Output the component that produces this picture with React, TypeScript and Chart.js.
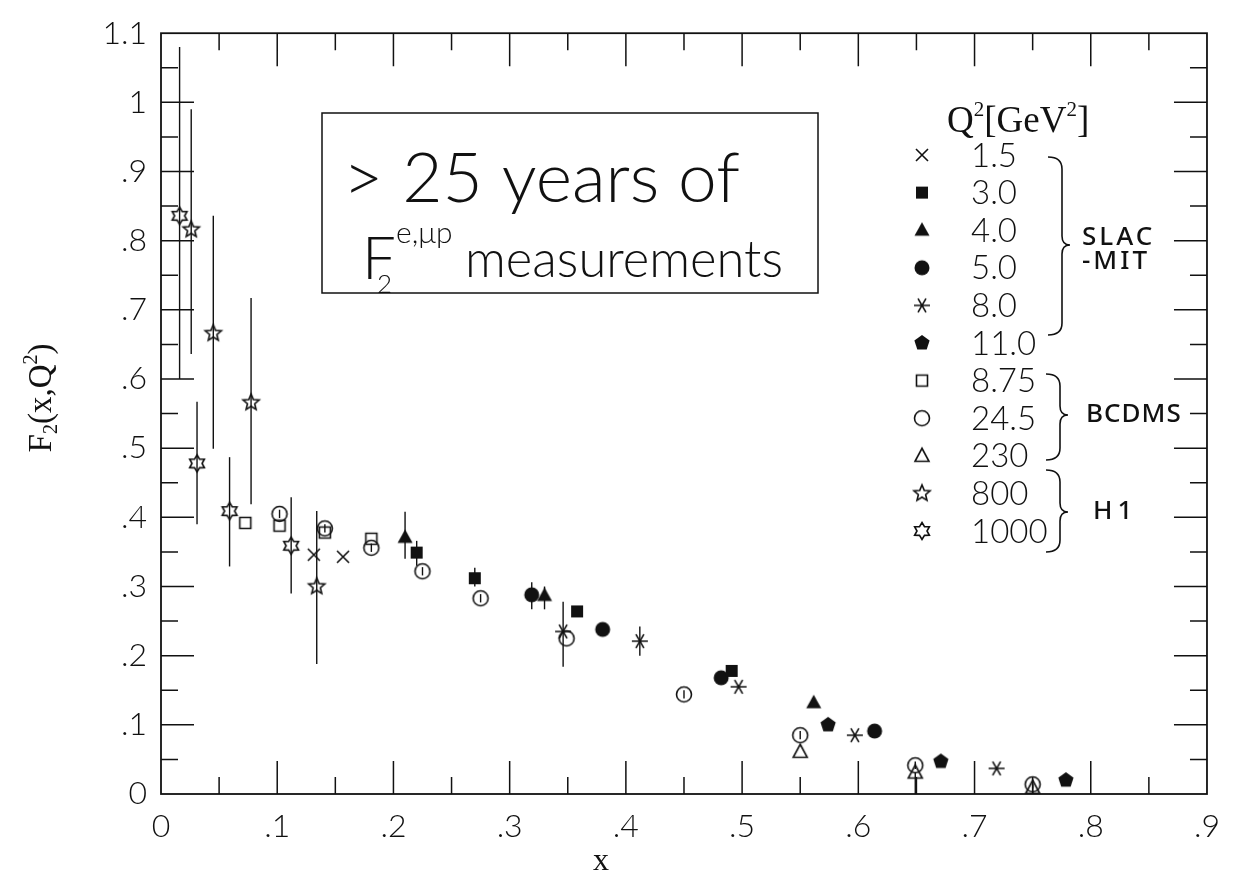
import React, { useEffect, useRef } from "react";
import { Chart, registerables } from "chart.js";

Chart.register(...registerables);

const INK = "#111111";

// ---------- data ----------
const legendLabels = ["1.5", "3.0", "4.0", "5.0", "8.0", "11.0", "8.75", "24.5", "230", "800", "1000"];
const legendMarkers = ["cross", "fsquare", "ftriangle", "fcircle", "asterisk", "fpentagon", "osquare", "ocircle", "otriangle", "star5", "star6"];
const groupNames = ["SLAC", "-MIT", "BCDMS", "H1"];
const xTickValues = [0, 0.1, 0.2, 0.3, 0.4, 0.5, 0.6, 0.7, 0.8, 0.9];
const yTickValues = [0, 0.1, 0.2, 0.3, 0.4, 0.5, 0.6, 0.7, 0.8, 0.9, 1.0, 1.1];

// SLAC-MIT Q2 = 1.5
const q15X = [0.1315, 0.1566];
const q15Y = [0.346, 0.343];
// SLAC-MIT Q2 = 3.0
const q30X = [0.22, 0.27, 0.358, 0.491];
const q30Y = [0.349, 0.312, 0.264, 0.178];
const q30Lo = [0.33, 0.3, null, null];
const q30Hi = [0.366, 0.327, null, null];
// SLAC-MIT Q2 = 4.0
const q40X = [0.21, 0.33, 0.5616];
const q40Y = [0.371, 0.287, 0.132];
const q40Lo = [0.34, 0.267, null];
const q40Hi = [0.408, 0.3, null];
// SLAC-MIT Q2 = 5.0
const q50X = [0.319, 0.38, 0.482, 0.614];
const q50Y = [0.288, 0.238, 0.168, 0.091];
const q50Lo = [0.267, null, null, null];
const q50Hi = [0.306, null, null, null];
// SLAC-MIT Q2 = 8.0
const q80X = [0.346, 0.412, 0.497, 0.597, 0.719];
const q80Y = [0.235, 0.221, 0.155, 0.085, 0.037];
const q80Lo = [0.184, 0.2, null, null, null];
const q80Hi = [0.278, 0.242, null, null, null];
// SLAC-MIT Q2 = 11.0
const q110X = [0.574, 0.671, 0.7786];
const q110Y = [0.1, 0.047, 0.02];
// BCDMS Q2 = 8.75
const q875X = [0.0725, 0.102, 0.141, 0.181];
const q875Y = [0.392, 0.388, 0.378, 0.369];
// BCDMS Q2 = 24.5
const q245X = [0.102, 0.141, 0.181, 0.225, 0.275, 0.349, 0.45, 0.55, 0.649, 0.75];
const q245Y = [0.405, 0.384, 0.356, 0.322, 0.283, 0.225, 0.144, 0.085, 0.0415, 0.014];
const q245Lo = [0.399, 0.378, 0.35, 0.316, 0.277, null, 0.138, 0.079, 0.036, 0.008];
const q245Hi = [0.411, 0.39, 0.362, 0.328, 0.289, null, 0.15, 0.091, 0.047, 0.02];
// BCDMS Q2 = 230
const q230X = [0.55, 0.649, 0.75];
const q230Y = [0.061, 0.031, 0.009];
const q230Lo = [null, 0.0, 0.0];
const q230Hi = [null, 0.031, 0.014];
// H1 Q2 = 800
const q800X = [0.026, 0.045, 0.0775, 0.134];
const q800Y = [0.816, 0.666, 0.566, 0.3];
const q800Lo = [0.636, 0.499, 0.419, 0.188];
const q800Hi = [0.99, 0.836, 0.717, 0.409];
// H1 Q2 = 1000
const q1000X = [0.016, 0.031, 0.059, 0.112];
const q1000Y = [0.836, 0.478, 0.409, 0.359];
const q1000Lo = [0.6, 0.39, 0.329, 0.29];
const q1000Hi = [1.08, 0.567, 0.487, 0.429];

// ---------- markers ----------
function makeMarker(kind: string): HTMLCanvasElement {
  const S = 26;
  const c = document.createElement("canvas");
  c.width = S;
  c.height = S;
  const g = c.getContext("2d") as CanvasRenderingContext2D;
  g.translate(S / 2, S / 2);
  g.strokeStyle = INK;
  g.fillStyle = INK;
  g.lineWidth = 1.6;
  g.lineJoin = "miter";
  g.beginPath();
  const poly = (n: number, rOut: number, rIn: number | null) => {
    const pts = rIn === null ? n : n * 2;
    for (let i = 0; i < pts; i++) {
      const a = -Math.PI / 2 + (i * 2 * Math.PI) / pts;
      const r = rIn === null ? rOut : i % 2 === 0 ? rOut : rIn;
      const px = r * Math.cos(a);
      const py = r * Math.sin(a);
      if (i === 0) g.moveTo(px, py);
      else g.lineTo(px, py);
    }
    g.closePath();
  };
  switch (kind) {
    case "cross":
      g.moveTo(-6, -6); g.lineTo(6, 6); g.moveTo(6, -6); g.lineTo(-6, 6); g.stroke();
      break;
    case "fsquare":
      g.fillRect(-6, -6, 12, 12);
      break;
    case "ftriangle":
      g.moveTo(0, -8); g.lineTo(7.5, 5.5); g.lineTo(-7.5, 5.5); g.closePath(); g.fill();
      break;
    case "fcircle":
      g.arc(0, 0, 7.5, 0, Math.PI * 2); g.fill();
      break;
    case "asterisk":
      for (const deg of [0, 60, 120]) {
        const a = (deg * Math.PI) / 180;
        g.moveTo(-8 * Math.cos(a), -8 * Math.sin(a));
        g.lineTo(8 * Math.cos(a), 8 * Math.sin(a));
      }
      g.stroke();
      break;
    case "fpentagon":
      poly(5, 8, null); g.fill();
      break;
    case "osquare":
      g.rect(-5.5, -5.5, 11, 11); g.stroke();
      break;
    case "ocircle":
      g.arc(0, 0, 7.5, 0, Math.PI * 2); g.stroke();
      break;
    case "otriangle":
      g.moveTo(0, -7.5); g.lineTo(7, 5.5); g.lineTo(-7, 5.5); g.closePath(); g.stroke();
      break;
    case "star5":
      g.lineWidth = 1.6; poly(5, 8.5, 3.8); g.stroke();
      break;
    case "star6":
      g.lineWidth = 1.6; poly(6, 8.5, 5); g.stroke();
      break;
  }
  return c;
}

function pts(xs: number[], ys: number[]) {
  return xs.map((x, i) => ({ x, y: ys[i] }));
}

type Part = { t: string; s: number; dy: number };
function drawRich(ctx: CanvasRenderingContext2D, parts: Part[], x: number, y: number, family: string, weight: string, align: "left" | "center") {
  let w = 0;
  for (const p of parts) {
    ctx.font = `${weight} ${p.s}px ${family}`;
    w += ctx.measureText(p.t).width;
  }
  let cx = align === "center" ? x - w / 2 : x;
  ctx.textAlign = "left";
  for (const p of parts) {
    ctx.font = `${weight} ${p.s}px ${family}`;
    ctx.fillText(p.t, cx, y + p.dy);
    cx += ctx.measureText(p.t).width;
  }
}

function fitText(ctx: CanvasRenderingContext2D, text: string, x: number, y: number, width: number, family: string, weight: string) {
  ctx.font = `${weight} 50px ${family}`;
  const w = ctx.measureText(text).width;
  const size = (50 * width) / w;
  ctx.font = `${weight} ${size}px ${family}`;
  ctx.textAlign = "left";
  ctx.fillText(text, x, y);
}

function drawBrace(ctx: CanvasRenderingContext2D, x: number, y1: number, y2: number, ym: number) {
  ctx.beginPath();
  ctx.moveTo(x - 14, y1);
  ctx.quadraticCurveTo(x, y1, x, y1 + 12);
  ctx.lineTo(x, ym - 9);
  ctx.quadraticCurveTo(x, ym, x + 8, ym);
  ctx.quadraticCurveTo(x, ym, x, ym + 9);
  ctx.lineTo(x, y2 - 12);
  ctx.quadraticCurveTo(x, y2, x - 14, y2);
  ctx.stroke();
}

const fmtTick = (v: number) => {
  const r = Math.round(v * 10);
  if (r === 0) return "0";
  if (r === 10) return "1";
  if (r === 11) return "1.1";
  return "." + r;
};

export default function App() {
  const ref = useRef<HTMLCanvasElement | null>(null);

  useEffect(() => {
    if (!ref.current) return;
    const markers = legendMarkers.map((k) => makeMarker(k));

    const seriesDefs: any[] = [
      { xs: q15X, ys: q15Y, lo: null, hi: null },
      { xs: q30X, ys: q30Y, lo: q30Lo, hi: q30Hi },
      { xs: q40X, ys: q40Y, lo: q40Lo, hi: q40Hi },
      { xs: q50X, ys: q50Y, lo: q50Lo, hi: q50Hi },
      { xs: q80X, ys: q80Y, lo: q80Lo, hi: q80Hi },
      { xs: q110X, ys: q110Y, lo: null, hi: null },
      { xs: q875X, ys: q875Y, lo: null, hi: null },
      { xs: q245X, ys: q245Y, lo: q245Lo, hi: q245Hi },
      { xs: q230X, ys: q230Y, lo: q230Lo, hi: q230Hi },
      { xs: q800X, ys: q800Y, lo: q800Lo, hi: q800Hi },
      { xs: q1000X, ys: q1000Y, lo: q1000Lo, hi: q1000Hi },
    ];

    const datasets = seriesDefs.map((s, i) => ({
      label: legendLabels[i],
      data: pts(s.xs, s.ys),
      errLo: s.lo,
      errHi: s.hi,
      pointStyle: markers[i],
      pointRadius: 8,
      showLine: false,
      borderColor: INK,
      backgroundColor: INK,
    }));

    const decor = {
      id: "decor",
      beforeDatasetsDraw(chart: any) {
        const ctx = chart.ctx as CanvasRenderingContext2D;
        const ys = chart.scales.y;
        ctx.save();
        ctx.strokeStyle = INK;
        ctx.lineWidth = 1.4;
        chart.data.datasets.forEach((ds: any, di: number) => {
          if (!ds.errLo) return;
          const meta = chart.getDatasetMeta(di);
          ds.data.forEach((_: any, i: number) => {
            const lo = ds.errLo[i];
            const hi = ds.errHi[i];
            if (lo === null || hi === null || lo === undefined) return;
            const px = meta.data[i].x;
            ctx.beginPath();
            ctx.moveTo(px, ys.getPixelForValue(lo));
            ctx.lineTo(px, ys.getPixelForValue(hi));
            ctx.stroke();
          });
        });
        ctx.restore();
      },
      afterDraw(chart: any) {
        const ctx = chart.ctx as CanvasRenderingContext2D;
        const { left, right, top, bottom } = chart.chartArea;
        const xs = chart.scales.x;
        const ys = chart.scales.y;
        ctx.save();
        ctx.strokeStyle = INK;
        ctx.fillStyle = INK;
        // frame
        ctx.lineWidth = 1.8;
        ctx.strokeRect(left, top, right - left, bottom - top);
        // ticks (inward)
        ctx.lineWidth = 1.5;
        ctx.beginPath();
        for (let k = 1; k < 18; k++) {
          const px = xs.getPixelForValue(k * 0.05);
          const len = k % 2 === 0 ? 33 : 17;
          ctx.moveTo(px, bottom); ctx.lineTo(px, bottom - len);
          ctx.moveTo(px, top); ctx.lineTo(px, top + len);
        }
        for (let k = 1; k < 22; k++) {
          const py = ys.getPixelForValue(k * 0.05);
          const len = k % 2 === 0 ? 33 : 17;
          ctx.moveTo(left, py); ctx.lineTo(left + len, py);
          ctx.moveTo(right, py); ctx.lineTo(right - len, py);
        }
        ctx.stroke();

        // axis titles
        ctx.textBaseline = "alphabetic";
        drawRich(ctx, [{ t: "x", s: 32, dy: 0 }], 601, 870, "'Liberation Serif'", "normal", "center");
        ctx.save();
        ctx.translate(51, 398);
        ctx.rotate(-Math.PI / 2);
        drawRich(
          ctx,
          [
            { t: "F", s: 33, dy: 0 },
            { t: "2", s: 20, dy: 6 },
            { t: "(x,Q", s: 33, dy: 0 },
            { t: "2", s: 20, dy: -14 },
            { t: ")", s: 33, dy: 0 },
          ],
          0, 0, "'Liberation Serif'", "normal", "center"
        );
        ctx.restore();

        // text box
        ctx.lineWidth = 1.5;
        ctx.strokeRect(322, 113, 496, 180);
        fitText(ctx, "> 25 years of", 343, 202, 397, "Lato", "300");
        ctx.font = "300 60px Lato";
        ctx.fillText("F", 362, 279);
        ctx.font = "300 26px Lato";
        ctx.fillText("2", 377, 293);
        ctx.font = "300 30px Lato";
        ctx.fillText("e,\u03bcp", 396, 243);
        fitText(ctx, "measurements", 465, 277, 318, "Lato", "300");

        // legend
        drawRich(
          ctx,
          [
            { t: "Q", s: 37, dy: 0 },
            { t: "2", s: 21, dy: -16 },
            { t: "[GeV", s: 37, dy: 0 },
            { t: "2", s: 21, dy: -16 },
            { t: "]", s: 37, dy: 0 },
          ],
          947, 132, "'Liberation Serif'", "normal", "left"
        );
        ctx.textBaseline = "middle";
        for (let i = 0; i < legendLabels.length; i++) {
          const yy = 155 + i * 37.6;
          ctx.drawImage(markers[i], 922 - markers[i].width / 2, yy - markers[i].height / 2);
          ctx.font = "300 33px Lato";
          ctx.textAlign = "left";
          ctx.fillText(legendLabels[i], 971, yy + 1);
        }
        // braces
        ctx.lineWidth = 1.6;
        drawBrace(ctx, 1062, 157, 335, 245);
        drawBrace(ctx, 1060, 374, 460, 415);
        drawBrace(ctx, 1060, 470, 552, 512);
        ctx.font = "500 26px 'Noto Sans'";
        ctx.textAlign = "left";
        (ctx as any).letterSpacing = "3px";
        ctx.fillText(groupNames[0], 1082, 238);
        ctx.fillText(groupNames[1], 1082, 262);
        (ctx as any).letterSpacing = "1px";
        ctx.fillText(groupNames[2], 1086, 415);
        (ctx as any).letterSpacing = "5px";
        ctx.fillText(groupNames[3], 1093, 512);
        (ctx as any).letterSpacing = "0px";
        ctx.restore();
      },
    };

    const chart = new Chart(ref.current, {
      type: "scatter",
      data: { datasets: datasets as any },
      options: {
        animation: false,
        responsive: false,
        maintainAspectRatio: false,
        layout: { padding: { left: 0, right: 18, top: 21, bottom: 0 } },
        plugins: { legend: { display: false }, tooltip: { enabled: false } },
        scales: {
          x: {
            type: "linear",
            min: 0,
            max: 0.9,
            afterBuildTicks: (s: any) => {
              s.ticks = xTickValues.map((v) => ({ value: v }));
            },
            afterFit: (s: any) => {
              s.height = 86;
            },
            ticks: {
              callback: (v: any) => fmtTick(Number(v)),
              font: { family: "Lato", size: 32, weight: "300" as any },
              color: INK,
              padding: 13,
              maxRotation: 0,
              autoSkip: false,
            },
            grid: { display: false, drawTicks: false },
            border: { display: false },
          },
          y: {
            type: "linear",
            min: 0,
            max: 1.1,
            afterBuildTicks: (s: any) => {
              s.ticks = yTickValues.map((v) => ({ value: v }));
            },
            afterFit: (s: any) => {
              s.width = 161;
            },
            ticks: {
              callback: (v: any) => fmtTick(Number(v)),
              font: { family: "Lato", size: 32, weight: "300" as any },
              color: INK,
              padding: 14,
              autoSkip: false,
            },
            grid: { display: false, drawTicks: false },
            border: { display: false },
          },
        },
      },
      plugins: [decor],
    });
    return () => chart.destroy();
  }, []);

  return (
    <div style={{ position: "absolute", left: 0, top: 0, width: 1233, height: 880, background: "#fff" }}>
      <canvas ref={ref} width={1233} height={880} style={{ width: 1233, height: 880, display: "block" }} />
    </div>
  );
}
